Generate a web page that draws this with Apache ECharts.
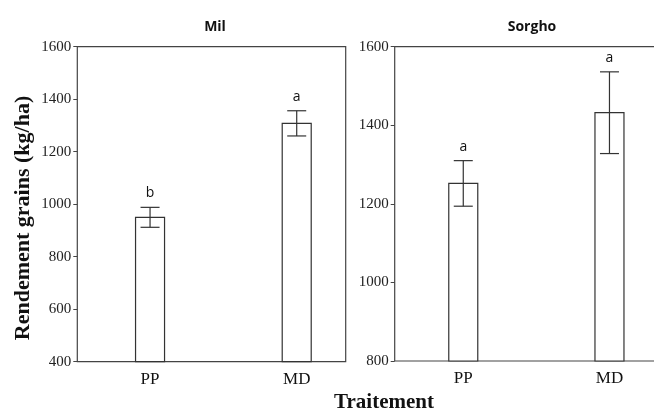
<!DOCTYPE html>
<html>
<head>
<meta charset="utf-8">
<script src="https://cdn.jsdelivr.net/npm/echarts@6/dist/echarts.min.js"></script>
<style>html,body{margin:0;padding:0;background:#fff}#c{width:654px;height:412px}</style>
</head>
<body>
<div id="c"></div>
<script>
const categories = ['PP', 'MD'];
const panels = ['Mil', 'Sorgho'];
const milMeans = [950, 1308];
const milErrors = [38, 48];
const milLetters = ['b', 'a'];
const sorghoMeans = [1252, 1432];
const sorghoErrors = [58, 104];
const sorghoLetters = ['a', 'a'];
const milTicks = [400, 600, 800, 1000, 1200, 1400, 1600];
const sorghoTicks = [800, 1000, 1200, 1400, 1600];

const chart = echarts.init(document.getElementById('c'));
const AX = '#444';
const SERIF = '"Liberation Serif","Times New Roman",serif';
const SANS = '"Open Sans","Noto Sans",sans-serif';

function buildData(means, errs, letters) {
  return means.map((m, i) => [i + 1, m, m - errs[i], m + errs[i], letters[i]]);
}

function renderItem(yMin) {
  return function (params, api) {
    const x = api.value(0), m = api.value(1), lo = api.value(2), hi = api.value(3);
    const base = api.coord([x, yMin]);
    const top = api.coord([x, m]);
    const pLo = api.coord([x, lo]);
    const pHi = api.coord([x, hi]);
    const bw = 29, cap = 9.5;
    const ln = { stroke: '#333', lineWidth: 1.2 };
    return {
      type: 'group',
      children: [
        { type: 'rect', shape: { x: base[0] - bw / 2, y: top[1], width: bw, height: base[1] - top[1] },
          style: { fill: '#fff', stroke: '#333', lineWidth: 1.2 } },
        { type: 'line', shape: { x1: pLo[0], y1: pLo[1], x2: pHi[0], y2: pHi[1] }, style: ln },
        { type: 'line', shape: { x1: pHi[0] - cap, y1: pHi[1], x2: pHi[0] + cap, y2: pHi[1] }, style: ln },
        { type: 'line', shape: { x1: pLo[0] - cap, y1: pLo[1], x2: pLo[0] + cap, y2: pLo[1] }, style: ln },
        { type: 'text', style: { text: api.value(4), x: pHi[0], y: pHi[1] - 14, align: 'center', verticalAlign: 'middle',
          font: '14px ' + SANS, fill: '#111' } }
      ]
    };
  };
}

function xAxis(idx, min, max) {
  return {
    type: 'value', gridIndex: idx, min: min, max: max,
    splitLine: { show: false },
    axisLine: { show: false },
    axisTick: { show: true, inside: true, length: 3, lineStyle: { color: AX }, customValues: [1, 2] },
    axisLabel: { customValues: [1, 2], formatter: v => categories[Math.round(v) - 1] || '',
      fontFamily: SERIF, fontSize: 17, color: '#111', margin: 9 }
  };
}
function yAxis(idx, ticks) {
  return {
    type: 'value', gridIndex: idx, min: ticks[0], max: ticks[ticks.length - 1], interval: ticks[1] - ticks[0],
    splitLine: { show: false },
    axisLine: { show: false },
    axisTick: { show: true, length: 4, lineStyle: { color: AX } },
    axisLabel: { formatter: v => String(v), fontFamily: SERIF, fontSize: 15, color: '#222', margin: 6 }
  };
}

chart.setOption({
  animation: false,
  backgroundColor: '#fff',
  title: [
    { text: panels[0], left: 210, top: 15, textAlign: 'center', textStyle: { fontFamily: SANS, fontWeight: 'bold', fontSize: 14, color: '#111' } },
    { text: panels[1], left: 527, top: 15, textAlign: 'center', textStyle: { fontFamily: SANS, fontWeight: 'bold', fontSize: 14, color: '#111' } }
  ],
  grid: [
    { left: 77.3, top: 46.7, width: 268.4, height: 315, show: true, borderColor: AX, borderWidth: 1.2, backgroundColor: 'transparent', outerBoundsMode: 'none', containLabel: false },
    { left: 394.7, top: 46.7, width: 280, height: 314.3, show: true, borderColor: AX, borderWidth: 1.2, backgroundColor: 'transparent', outerBoundsMode: 'none', containLabel: false }
  ],
  xAxis: [xAxis(0, 0.504, 2.334), xAxis(1, 0.531, 0.531 + 280 / 146.2)],
  yAxis: [yAxis(0, milTicks), yAxis(1, sorghoTicks)],
  graphic: [
    { type: 'text', rotation: Math.PI / 2, x: 23, y: 218, style: { text: 'Rendement grains (kg/ha)', font: 'bold 22px ' + SERIF,
      fill: '#111', align: 'center', verticalAlign: 'middle' } },
    { type: 'text', x: 384, y: 403, style: { text: 'Traitement', font: 'bold 21px ' + SERIF, fill: '#111',
      align: 'center', verticalAlign: 'middle' } }
  ],
  series: [
    { type: 'custom', xAxisIndex: 0, yAxisIndex: 0, renderItem: renderItem(milTicks[0]), data: buildData(milMeans, milErrors, milLetters), clip: false },
    { type: 'custom', xAxisIndex: 1, yAxisIndex: 1, renderItem: renderItem(sorghoTicks[0]), data: buildData(sorghoMeans, sorghoErrors, sorghoLetters), clip: false }
  ]
});
</script>
</body>
</html>
